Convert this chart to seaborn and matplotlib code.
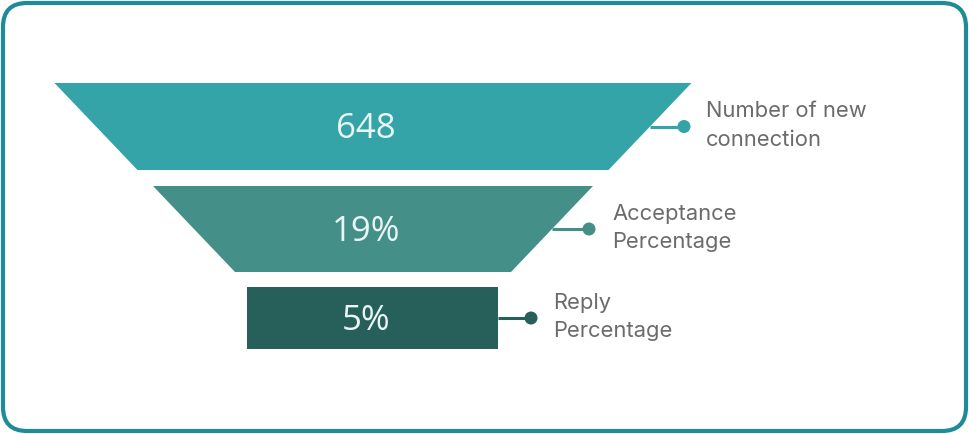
import matplotlib
matplotlib.use('Agg')
import matplotlib.pyplot as plt
from matplotlib.patches import Polygon, FancyBboxPatch, Circle
import seaborn as sns

# funnel data
stage_names = ['Number of new\nconnection', 'Acceptance\nPercentage', 'Reply\nPercentage']
stage_values = ['648', '19%', '5%']
stage_colors = ['#35A4A8', '#448F88', '#27605B']

# layout (pixel units, figure is 969 x 434)
center_x = 373
tops = [83, 186, 287]
bottoms = [170, 272, 349]
top_widths = [637, 440, 251]
bottom_widths = [471, 276, 251]
dot_x = [684, 589, 531]
label_x = [706, 612, 553]

sns.set_style('white')
plt.rcParams['font.family'] = ['Inter', 'DejaVu Sans']

fig = plt.figure(figsize=(9.69, 4.34), dpi=100)
ax = fig.add_axes([0, 0, 1, 1])
ax.set_xlim(0, 969)
ax.set_ylim(434, 0)
ax.axis('off')

border = FancyBboxPatch((3, 3), 963, 428, boxstyle='round,pad=0,rounding_size=24',
                        fc='white', ec='#1E8C96', lw=3)
ax.add_patch(border)

for i in range(len(stage_values)):
    t, b = tops[i], bottoms[i]
    tw, bw = top_widths[i] / 2, bottom_widths[i] / 2
    poly = Polygon([(center_x - tw, t), (center_x + tw, t),
                    (center_x + bw, b), (center_x - bw, b)],
                   closed=True, fc=stage_colors[i], ec='none')
    ax.add_patch(poly)
    mid_y = (t + b) / 2
    ax.text(center_x - 7, mid_y + 3, stage_values[i], color='#EAF6F6', fontsize=25,
            family=['Open Sans', 'DejaVu Sans'], ha='center', va='center')
    # connector line from the right edge to a dot
    edge_x = center_x + (tw + bw) / 2
    ax.plot([edge_x, dot_x[i]], [mid_y, mid_y], color=stage_colors[i], lw=2.2,
            solid_capstyle='butt')
    ax.add_patch(Circle((dot_x[i], mid_y), 6.5, fc=stage_colors[i], ec='none'))
    ax.text(label_x[i], mid_y - 1, stage_names[i], color='#6B6B6B', fontsize=15.8,
            ha='left', va='center', linespacing=1.55)

fig.savefig('out.png', dpi=100)
